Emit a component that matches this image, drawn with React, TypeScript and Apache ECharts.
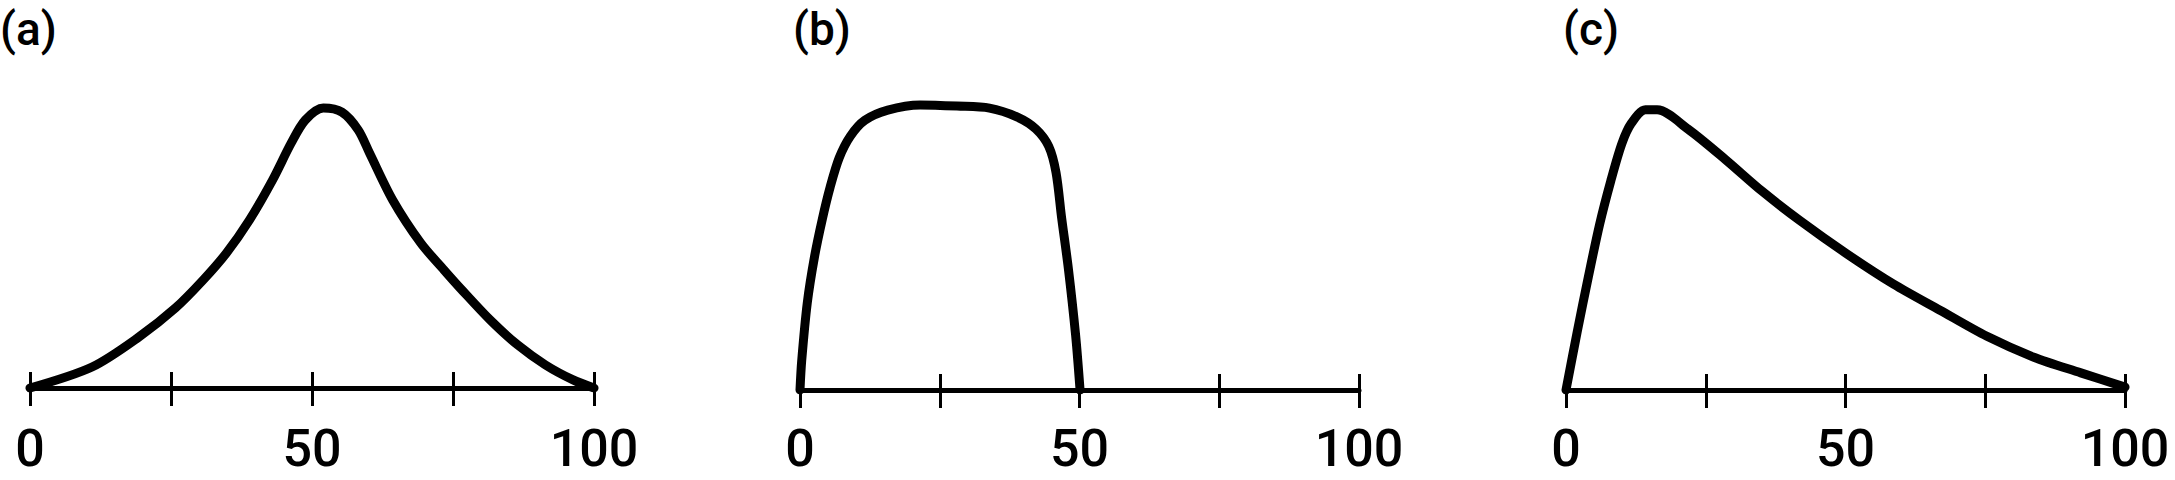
import React, { useEffect, useRef } from "react";
import * as echarts from "echarts";

// Panel titles
const panelTitles = ["(a)", "(b)", "(c)"];

// Axis ticks (x axis 0..100, labels at 0, 50, 100)
const xTickValues = [0, 25, 50, 75, 100];
const xLabelValues = [0, 50, 100];

// Panel (a): symmetric peak near 52
const xA = [0, 11, 19.3, 25.8, 30.7, 34.8, 38.9, 43, 46.3, 48.8, 52, 55.3, 58.2, 60.2, 64.3, 69.3, 73.4, 76.6, 81.6, 86.5, 91.4, 96.3, 100];
const yA = [0, 7.3, 17.7, 27.8, 37.5, 46.8, 58.3, 72.2, 85, 93, 97.2, 95.8, 89.6, 81.6, 65.3, 50.3, 41, 34, 23.6, 14.9, 8, 2.8, 0];

// Panel (b): plateau from 0 to 50
const xB = [0, 0.3, 1.3, 2.6, 4, 5.4, 7, 9, 11.6, 15.7, 21.5, 28.1, 33.9, 38.9, 42.2, 44.5, 45.8, 46.8, 48, 49.3, 50.1];
const yB = [0, 10, 30, 46, 59, 70, 80, 87.5, 93, 96.5, 98.3, 97.9, 97.2, 94.1, 90, 84, 75, 59.4, 42, 19, 0];

// Panel (c): early peak near 15, long tail
const xC = [0, 2, 4, 6, 8, 10, 11.7, 14.2, 16.3, 21.8, 28.5, 35.1, 41.8, 50.2, 58.6, 66.9, 75.3, 83.7, 92.1, 100];
const yC = [0, 20, 39, 57, 72, 85, 92, 96.6, 96.6, 90, 79.5, 68.5, 58.5, 47, 36.5, 27.5, 18.5, 11.3, 5.9, 1];

const pairs = (xs: number[], ys: number[]) => xs.map((x, i) => [x, ys[i]]);

export default function App() {
  const ref = useRef<HTMLDivElement>(null);
  useEffect(() => {
    if (!ref.current) return;
    const chart = echarts.init(ref.current, undefined, { renderer: "svg" });
    const grids = [
      { left: 30, top: 100, width: 564, height: 288 },
      { left: 800, top: 100, width: 559, height: 290 },
      { left: 1566, top: 100, width: 559, height: 290 },
    ];
    const labelMargins = [34, 32, 32];
    const titlePos = [0, 793, 1563];
    const font = "Roboto, 'DejaVu Sans', sans-serif";
    const xAxes: any[] = [];
    const yAxes: any[] = [];
    grids.forEach((_, i) => {
      xAxes.push({
        type: "value",
        gridIndex: i,
        min: 0,
        max: 100,
        interval: 25,
        splitLine: { show: false },
        axisLine: { show: true, lineStyle: { color: "#000", width: 5 } },
        axisTick: { show: true, length: 18, lineStyle: { color: "#000", width: 3 } },
        axisLabel: {
          show: true,
          margin: labelMargins[i],
          color: "#000",
          fontFamily: font,
          fontWeight: 500,
          fontSize: 52,
          lineHeight: 52,
          formatter: (v: number) => (xLabelValues.includes(v) ? String(v) : ""),
        },
      });
      xAxes.push({
        type: "value",
        gridIndex: i,
        min: 0,
        max: 100,
        interval: 25,
        position: "bottom",
        splitLine: { show: false },
        axisLine: { show: false },
        axisTick: { show: true, inside: true, length: 16, lineStyle: { color: "#000", width: 3 } },
        axisLabel: { show: false },
      });
      yAxes.push({ type: "value", gridIndex: i, min: 0, max: 100, show: false });
    });
    const datas = [pairs(xA, yA), pairs(xB, yB), pairs(xC, yC)];
    chart.setOption({
      animation: false,
      backgroundColor: "#fff",
      grid: grids,
      xAxis: xAxes,
      yAxis: yAxes,
      series: datas.map((d, i) => ({
        type: "line",
        xAxisIndex: i * 2,
        yAxisIndex: i,
        data: d,
        showSymbol: false,
        smooth: 0.3,
        lineStyle: { color: "#000", width: 9, cap: "round", join: "round" },
        z: 5,
      })),
      graphic: panelTitles.map((t, i) => ({
        type: "text",
        left: titlePos[i],
        top: 6,
        style: { text: t, fill: "#000", fontFamily: font, fontWeight: 500, fontSize: 46 },
      })),
    });
    return () => chart.dispose();
  }, []);
  return (
    <div
      ref={ref}
      style={{ position: "fixed", left: 0, top: 0, width: 2175, height: 480 }}
    />
  );
}
